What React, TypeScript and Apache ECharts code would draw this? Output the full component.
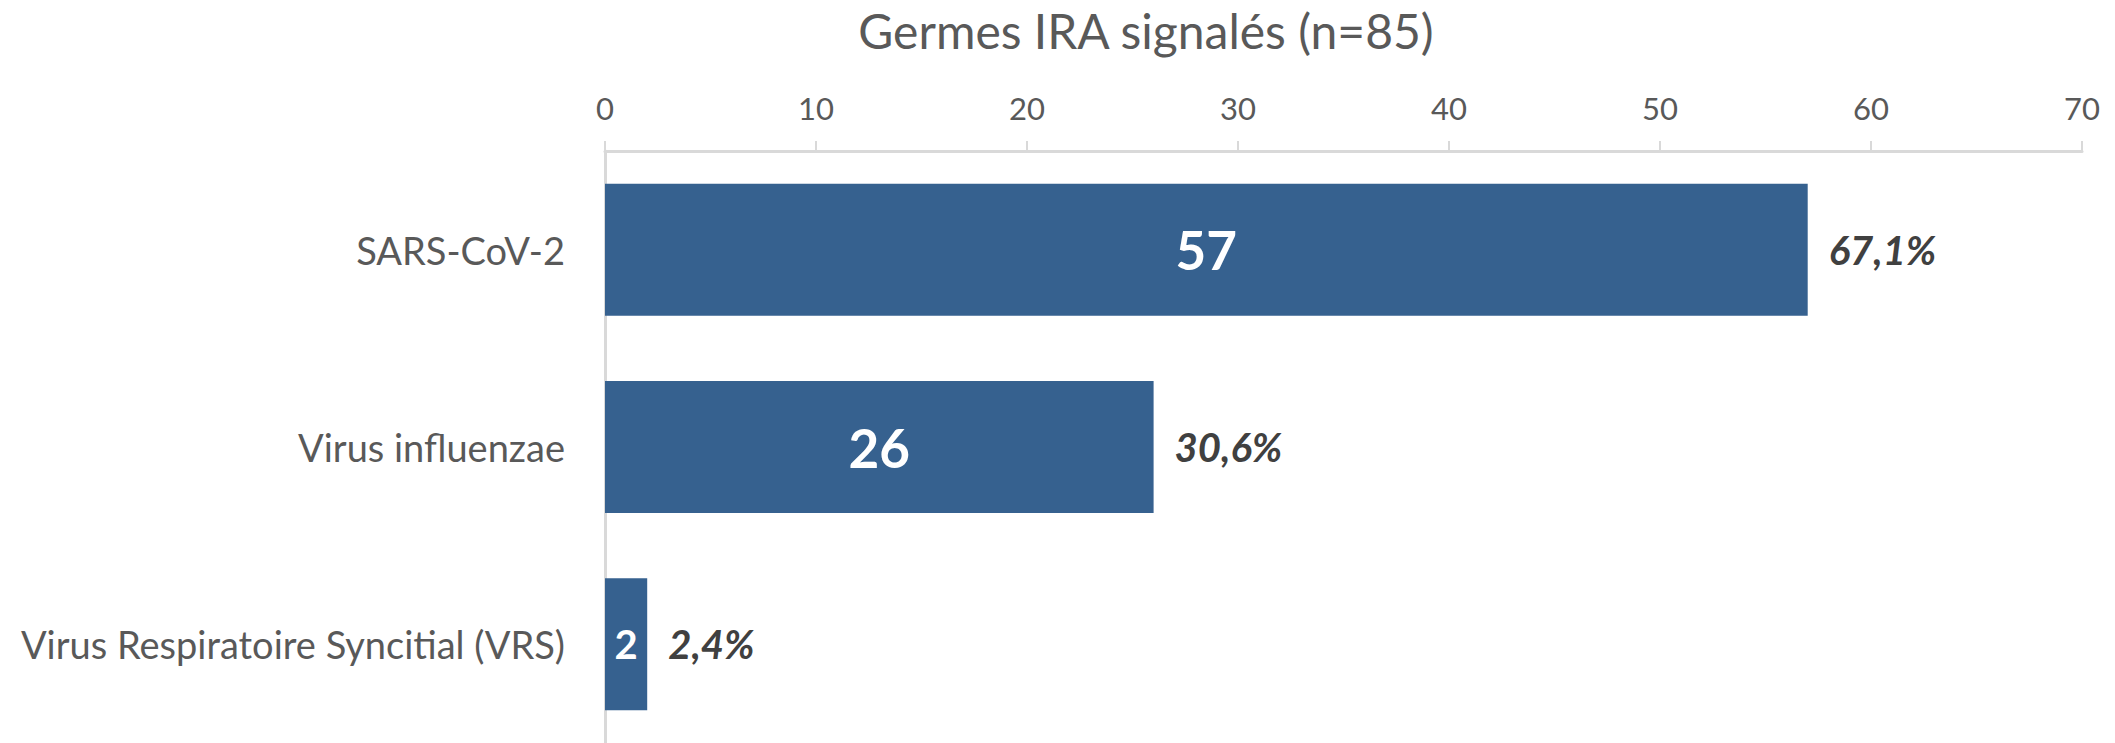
import React, { useEffect, useRef } from "react";
import * as echarts from "echarts";

const title = "Germes IRA signalés (n=85)";
const categories = ["SARS-CoV-2", "Virus influenzae", "Virus Respiratoire Syncitial (VRS)"];
const counts = [57, 26, 2];
const percents = [67.1, 30.6, 2.4];
const xTicks = { min: 0, max: 70, interval: 10 };

const BAR = "#36618f";
const GREY = "#595959";
const AXIS = "#d9d9d9";
const FONT = "Lato, 'Open Sans', sans-serif";

export default function App() {
  const ref = useRef<HTMLDivElement>(null);
  useEffect(() => {
    document.body.style.margin = "0";
    if (!ref.current) return;
    const chart = echarts.init(ref.current, undefined, { renderer: "svg" });
    chart.setOption({
      animation: false,
      backgroundColor: "#ffffff",
      title: {
        text: title,
        left: 1141,
        top: 1,
        textAlign: "center",
        textStyle: { fontFamily: FONT, fontSize: 48, fontWeight: "normal", color: GREY },
      },
      grid: { left: 605, right: 33, top: 151, height: 594, containLabel: false },
      xAxis: {
        type: "value",
        position: "top",
        min: xTicks.min,
        max: xTicks.max,
        interval: xTicks.interval,
        axisLine: { show: true, lineStyle: { color: AXIS, width: 3 } },
        axisTick: { show: true, inside: false, length: 10, lineStyle: { color: AXIS, width: 2 } },
        splitLine: { show: false },
        axisLabel: { fontFamily: FONT, fontSize: 31, color: GREY, margin: 28 },
      },
      yAxis: {
        type: "category",
        inverse: true,
        data: categories,
        axisLine: { show: true, lineStyle: { color: AXIS, width: 3 } },
        axisTick: { show: false },
        axisLabel: { fontFamily: FONT, fontSize: 38, color: GREY, margin: 40 },
      },
      series: [
        {
          type: "bar",
          barWidth: 132,
          data: counts.map((v, i) =>
            i === 2 ? { value: v, label: { fontSize: 40 } } : { value: v }
          ),
          itemStyle: { color: BAR },
          label: {
            show: true,
            position: "inside",
            color: "#ffffff",
            fontFamily: FONT,
            fontWeight: "bold",
            fontSize: 53,
          },
          z: 3,
        },
        {
          type: "bar",
          barWidth: 132,
          barGap: "-100%",
          data: counts,
          itemStyle: { color: "rgba(0,0,0,0)" },
          label: {
            show: true,
            position: "right",
            distance: 21,
            color: "#404040",
            fontFamily: FONT,
            fontWeight: "bold",
            fontStyle: "italic",
            fontSize: 40,
            formatter: (p: any) => percents[p.dataIndex].toFixed(1).replace(".", ",") + "%",
          },
          z: 2,
        },
      ],
    });
    return () => chart.dispose();
  }, []);
  return <div ref={ref} style={{ width: 2115, height: 743 }} />;
}
